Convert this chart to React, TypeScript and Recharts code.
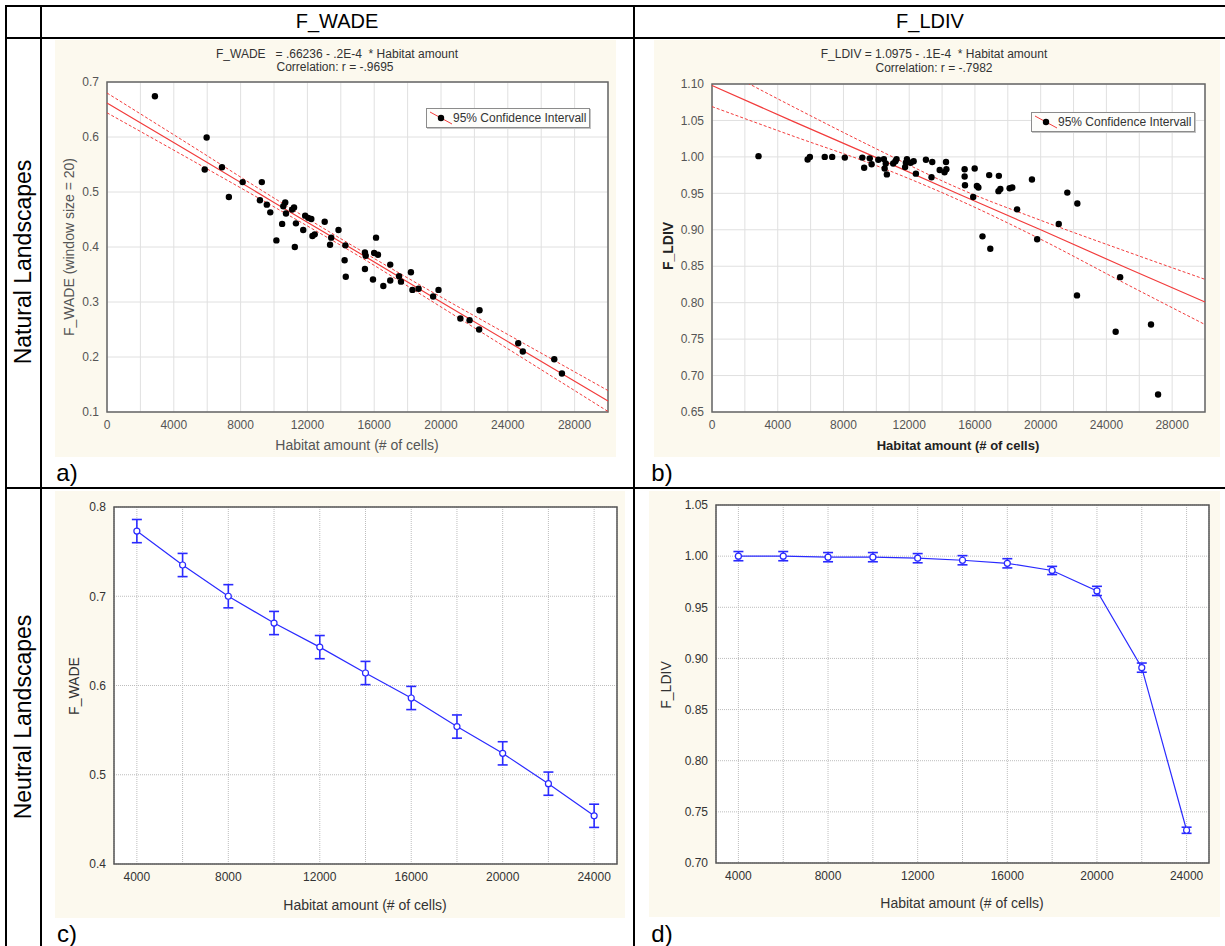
import React from 'react';
import {
  ComposedChart,
  LineChart,
  Line,
  Scatter,
  XAxis,
  YAxis,
  CartesianGrid,
  ErrorBar,
  ReferenceArea,
} from 'recharts';

// ---- panel a: natural landscapes, F_WADE ----
const habitatA = [
  2869, 5967, 5852, 6885, 7298, 8124, 9272, 9157, 9570, 9777, 10144, 10488, 10557, 10672, 10718,
  11085, 11200, 11246, 11314, 11750, 11865, 12049, 12233, 12301, 12439, 13036, 13426, 13357, 13862,
  14275, 14229, 14298, 15445, 15491, 15445, 15927, 15996, 16111, 16226, 16547, 16960, 16960, 17488,
  17603, 18199, 18291, 18658, 19530, 19852, 21160, 21711, 22307, 22284, 24625, 24900, 26782, 27241,
];
const wadeA = [
  0.674, 0.599, 0.541, 0.545, 0.491, 0.518, 0.518, 0.485, 0.477, 0.463, 0.412, 0.442, 0.474, 0.481,
  0.461, 0.468, 0.472, 0.4, 0.443, 0.431, 0.457, 0.453, 0.451, 0.42, 0.423, 0.446, 0.417, 0.404,
  0.431, 0.403, 0.376, 0.346, 0.39, 0.384, 0.36, 0.341, 0.389, 0.417, 0.386, 0.329, 0.368, 0.339,
  0.347, 0.337, 0.354, 0.322, 0.324, 0.31, 0.322, 0.27, 0.267, 0.285, 0.25, 0.225, 0.21, 0.196, 0.17,
];

// ---- panel b: natural landscapes, F_LDIV ----
const habitatB = [
  2830, 5819, 5955, 6860, 7313, 8083, 9147, 9260, 9600, 9713, 10120, 10460, 10505, 10573, 10641,
  11026, 11162, 11230, 11750, 11796, 11863, 12090, 12271, 12407, 13018, 13358, 13403, 13856, 14150,
  14241, 14263, 15373, 15373, 15395, 15893, 15984, 16120, 16210, 16460, 16867, 16935, 17456, 17433,
  17546, 18112, 18271, 18565, 19470, 19787, 21100, 21621, 22232, 22210, 24564, 24836, 26715, 27145,
];
const ldivB = [
  1.001, 0.9965, 1.0, 1.0, 1.0, 0.999, 0.999, 0.985, 0.998, 0.99, 0.996, 0.997, 0.984, 0.991, 0.976,
  0.991, 0.994, 0.997, 0.986, 0.992, 0.997, 0.992, 0.994, 0.977, 0.996, 0.972, 0.993, 0.982, 0.979,
  0.993, 0.983, 0.983, 0.973, 0.961, 0.945, 0.984, 0.96, 0.958, 0.891, 0.975, 0.874, 0.974, 0.953,
  0.956, 0.957, 0.958, 0.928, 0.969, 0.887, 0.908, 0.951, 0.936, 0.81, 0.76, 0.835, 0.77, 0.674,
];

// regression line and 95% band, read at these habitat amounts
const fitX = [0, 5000, 10000, 15000, 20000, 25000, 30000];
const wadeFit = [0.662, 0.572, 0.481, 0.391, 0.3, 0.21, 0.12];
const wadeUpper = [0.68, 0.585, 0.489, 0.397, 0.309, 0.224, 0.139];
const wadeLower = [0.644, 0.559, 0.473, 0.385, 0.291, 0.196, 0.101];
const ldivFit = [1.098, 1.048, 0.999, 0.949, 0.9, 0.85, 0.801];
const ldivUpper = [1.127, 1.068, 1.011, 0.957, 0.913, 0.872, 0.832];
const ldivLower = [1.069, 1.028, 0.988, 0.941, 0.887, 0.828, 0.77];

// ---- panels c, d: neutral landscapes (means with error bars) ----
const meanX = [4000, 6000, 8000, 10000, 12000, 14000, 16000, 18000, 20000, 22000, 24000];
const wadeMean = [0.773, 0.735, 0.7, 0.67, 0.643, 0.614, 0.586, 0.554, 0.524, 0.49, 0.454];
const wadeErr = [0.013, 0.013, 0.013, 0.013, 0.013, 0.013, 0.013, 0.013, 0.013, 0.013, 0.013];
const ldivMean = [1.0, 1.0, 0.999, 0.999, 0.998, 0.996, 0.993, 0.986, 0.966, 0.891, 0.732];
const ldivErr = [0.0045, 0.0045, 0.0045, 0.0045, 0.0045, 0.0045, 0.0045, 0.004, 0.0045, 0.0045, 0.003];

const ticks2k = [2000, 4000, 6000, 8000, 10000, 12000, 14000, 16000, 18000, 20000, 22000, 24000, 26000, 28000];
const ticksNatX = [0, ...ticks2k];
const ticksNeuX = ticks2k.slice(1, 12);
const wadeTicksA = [0.1, 0.2, 0.3, 0.4, 0.5, 0.6, 0.7];
const ldivTicksB = [0.65, 0.7, 0.75, 0.8, 0.85, 0.9, 0.95, 1.0, 1.05, 1.1];
const wadeTicksC = [0.4, 0.5, 0.6, 0.7, 0.8];
const ldivTicksD = [0.7, 0.75, 0.8, 0.85, 0.9, 0.95, 1.0, 1.05];

const FONT = '"Liberation Sans", Arial, sans-serif';
const BEIGE = '#fcf9ee';
const RED = '#f23c3c';
const BLUE = '#2a2aff';

const zip = (xs: number[], ys: number[]) => xs.map((x, i) => ({ x, y: ys[i] }));
const band = (fit: number[], up: number[], lo: number[]) =>
  fitX.map((x, i) => ({ x, fit: fit[i], upper: up[i], lower: lo[i] }));
const meanRows = (ys: number[], es: number[]) => meanX.map((x, i) => ({ x, y: ys[i], err: es[i] }));
const every4k = (v: number) => (v % 4000 === 0 ? String(v) : '');

const Text = ({ x, y, size, bold, rotate, color, children }: any) => (
  <div
    style={{
      position: 'absolute',
      left: x,
      top: y,
      transform: `translate(-50%, -50%)${rotate ? ' rotate(-90deg)' : ''}`,
      fontFamily: FONT,
      fontSize: size,
      fontWeight: bold ? 'bold' : 'normal',
      color: color || '#000',
      whiteSpace: 'pre',
      lineHeight: 1,
    }}
  >
    {children}
  </div>
);

const FitLegend = ({ left, top }: any) => (
  <div
    style={{
      position: 'absolute',
      left,
      top,
      width: 162,
      height: 18,
      background: '#fdfdfb',
      border: '1px solid #8c8c8c',
      boxShadow: '1px 1px 0 #c4c4c4',
      display: 'flex',
      alignItems: 'center',
      fontFamily: FONT,
      fontSize: 12,
      color: '#333',
    }}
  >
    <svg width={26} height={18}>
      <line x1={3} y1={3} x2={25} y2={15} stroke={RED} strokeWidth={1} />
      <circle cx={14} cy={9} r={3.2} fill="#000" />
    </svg>
    <span>95% Confidence Intervall</span>
  </div>
);

const Dot = (p: any) => <circle cx={p.cx} cy={p.cy} r={3.2} fill="#000" />;

const NaturalPanel = ({ w, h, margin, yWidth, yDomain, yTicks, yFmt, points, rows }: any) => (
  <ComposedChart width={w} height={h} margin={margin} data={rows} style={{ background: BEIGE }}>
    <CartesianGrid stroke="#e0e0e0" fill="#fff" />
    <XAxis
      type="number"
      dataKey="x"
      domain={[0, 30000]}
      ticks={ticksNatX}
      tickFormatter={every4k}
      tickLine={false}
      axisLine={false}
      height={30}
      interval={0}
      tick={{ fontSize: 12, fill: '#555', fontFamily: FONT }}
    />
    <YAxis
      type="number"
      dataKey="y"
      domain={yDomain}
      ticks={yTicks}
      tickFormatter={yFmt}
      tickLine={false}
      axisLine={false}
      width={yWidth}
      interval={0}
      allowDataOverflow
      tick={{ fontSize: 12, fill: '#555', fontFamily: FONT }}
    />
    <Line dataKey="upper" stroke={RED} strokeWidth={1} strokeDasharray="3 2" dot={false} type="monotone" isAnimationActive={false} />
    <Line dataKey="lower" stroke={RED} strokeWidth={1} strokeDasharray="3 2" dot={false} type="monotone" isAnimationActive={false} />
    <Line dataKey="fit" stroke={RED} strokeWidth={1.2} dot={false} isAnimationActive={false} />
    <Scatter data={points} shape={Dot} isAnimationActive={false} />
    <ReferenceArea x1={0} x2={30000} y1={yDomain[0]} y2={yDomain[1]} fill="none" stroke="#666" strokeWidth={1.5} fillOpacity={0} />
  </ComposedChart>
);

const NeutralPanel = ({ w, h, margin, yWidth, yDomain, yTicks, yFmt, rows }: any) => (
  <LineChart width={w} height={h} margin={margin} data={rows} style={{ background: BEIGE }}>
    <CartesianGrid stroke="#bdbdbd" strokeDasharray="1 1" fill="#fff" />
    <XAxis
      type="number"
      dataKey="x"
      domain={[3000, 25000]}
      ticks={ticksNeuX}
      tickFormatter={every4k}
      tickLine={false}
      axisLine={false}
      height={30}
      interval={0}
      tick={{ fontSize: 12, fill: '#333', fontFamily: FONT }}
    />
    <YAxis
      type="number"
      domain={yDomain}
      ticks={yTicks}
      tickFormatter={yFmt}
      tickLine={false}
      axisLine={false}
      width={yWidth}
      interval={0}
      tick={{ fontSize: 12, fill: '#333', fontFamily: FONT }}
    />
    <ReferenceArea x1={3000} x2={25000} y1={yDomain[0]} y2={yDomain[1]} fill="none" stroke="#555" strokeWidth={1.5} fillOpacity={0} />
    <Line
      dataKey="y"
      stroke={BLUE}
      strokeWidth={1.2}
      dot={{ r: 3, fill: '#fff', stroke: BLUE, strokeWidth: 1.2 }}
      isAnimationActive={false}
    >
      <ErrorBar dataKey="err" direction="y" width={5} stroke={BLUE} strokeWidth={1.6} />
    </Line>
  </LineChart>
);

const Rule = ({ x, y, w, h }: any) => (
  <div style={{ position: 'absolute', left: x, top: y, width: w, height: h, background: '#000' }} />
);

const Box = ({ x, y, children }: any) => <div style={{ position: 'absolute', left: x, top: y }}>{children}</div>;

export default function App() {
  return (
    <div style={{ position: 'absolute', left: 0, top: 0, width: 1225, height: 946, background: '#fff', overflow: 'hidden' }}>
      {/* table rules */}
      <Rule x={5} y={5} w={1220} h={2} />
      <Rule x={5} y={37} w={1220} h={2} />
      <Rule x={5} y={487} w={1220} h={2} />
      <Rule x={5} y={5} w={2} h={941} />
      <Rule x={40} y={5} w={2} h={941} />
      <Rule x={633} y={5} w={2} h={941} />

      <Text x={337} y={21} size={20}>F_WADE</Text>
      <Text x={930} y={21} size={20}>F_LDIV</Text>
      <Text x={23} y={262} size={23} rotate>Natural Landscapes</Text>
      <Text x={23} y={717} size={23} rotate>Neutral Landscapes</Text>

      {/* a */}
      <Box x={55} y={40}>
        <NaturalPanel
          w={561}
          h={417}
          margin={{ top: 42, right: 8, bottom: 15, left: 0 }}
          yWidth={52}
          yDomain={[0.1, 0.7]}
          yTicks={wadeTicksA}
          yFmt={(v: number) => v.toFixed(1)}
          points={zip(habitatA, wadeA)}
          rows={band(wadeFit, wadeUpper, wadeLower)}
        />
      </Box>
      <Text x={337} y={54} size={12} color="#333">{'F_WADE   = .66236 - .2E-4  * Habitat amount'}</Text>
      <Text x={335} y={67} size={12} color="#333">Correlation: r = -.9695</Text>
      <Text x={69} y={247} size={14} rotate color="#555">F_WADE (window size = 20)</Text>
      <Text x={357} y={445} size={14} color="#555">Habitat amount (# of cells)</Text>
      <FitLegend left={426} top={108} />
      <Text x={67} y={473} size={24}>a)</Text>

      {/* b */}
      <Box x={654} y={40}>
        <NaturalPanel
          w={566}
          h={417}
          margin={{ top: 44, right: 15, bottom: 15, left: 0 }}
          yWidth={58}
          yDomain={[0.65, 1.1]}
          yTicks={ldivTicksB}
          yFmt={(v: number) => v.toFixed(2)}
          points={zip(habitatB, ldivB)}
          rows={band(ldivFit, ldivUpper, ldivLower)}
        />
      </Box>
      <Text x={934} y={54} size={12} color="#333">{'F_LDIV = 1.0975 - .1E-4  * Habitat amount'}</Text>
      <Text x={934} y={68} size={12} color="#333">Correlation: r = -.7982</Text>
      <Text x={668} y={246} size={14} bold rotate color="#222">F_LDIV</Text>
      <Text x={958} y={445} size={13} bold color="#222">Habitat amount (# of cells)</Text>
      <FitLegend left={1031} top={112} />
      <Text x={662} y={473} size={24}>b)</Text>

      {/* c */}
      <Box x={55} y={491}>
        <NeutralPanel
          w={570}
          h={427}
          margin={{ top: 16, right: 8, bottom: 24, left: 0 }}
          yWidth={59}
          yDomain={[0.4, 0.8]}
          yTicks={wadeTicksC}
          yFmt={(v: number) => v.toFixed(1)}
          rows={meanRows(wadeMean, wadeErr)}
        />
      </Box>
      <Text x={74} y={686} size={14} rotate color="#333">F_WADE</Text>
      <Text x={365} y={905} size={14} color="#333">Habitat amount (# of cells)</Text>
      <Text x={67} y={934} size={24}>c)</Text>

      {/* d */}
      <Box x={649} y={491}>
        <NeutralPanel
          w={571}
          h={426}
          margin={{ top: 14, right: 11, bottom: 24, left: 0 }}
          yWidth={67}
          yDomain={[0.7, 1.05]}
          yTicks={ldivTicksD}
          yFmt={(v: number) => v.toFixed(2)}
          rows={meanRows(ldivMean, ldivErr)}
        />
      </Box>
      <Text x={666} y={685} size={14} rotate color="#333">F_LDIV</Text>
      <Text x={962} y={903} size={14} color="#333">Habitat amount (# of cells)</Text>
      <Text x={662} y={934} size={24}>d)</Text>
    </div>
  );
}
